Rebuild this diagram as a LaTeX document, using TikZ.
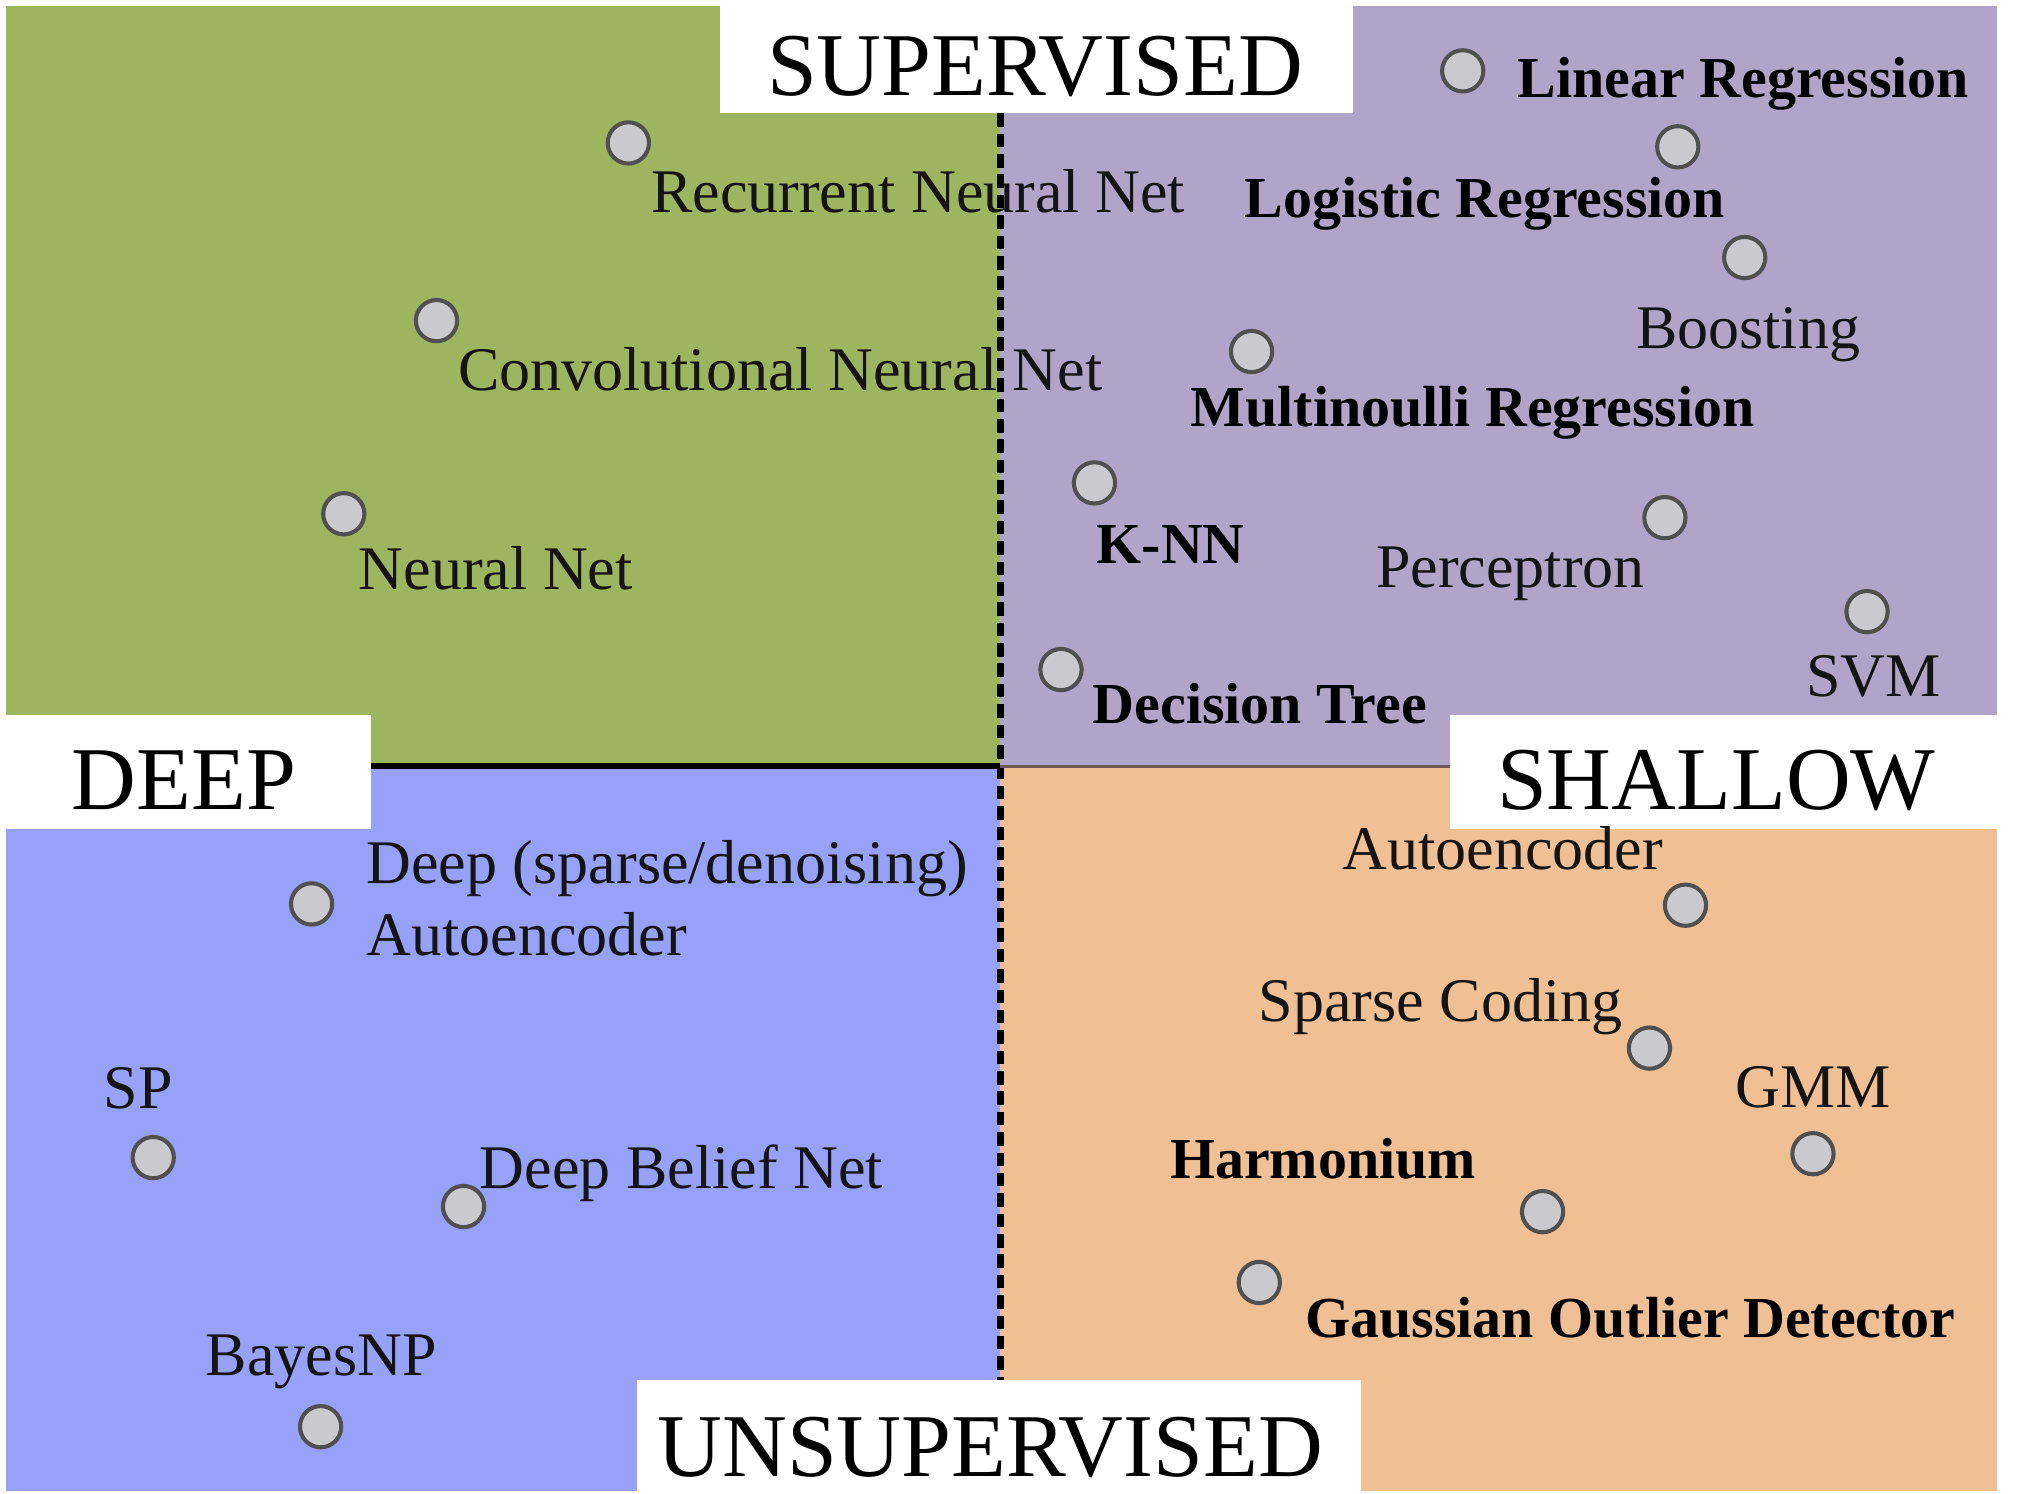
\documentclass[tikz,border=0pt]{standalone}
\usepackage{fontspec}
\setmainfont{Liberation Serif}

\definecolor{greenq}{RGB}{158,181,96}
\definecolor{purpleq}{RGB}{176,165,201}
\definecolor{blueq}{RGB}{151,161,247}
\definecolor{orangeq}{RGB}{240,191,147}
\definecolor{dotfill}{RGB}{202,202,206}
\definecolor{dotline}{RGB}{80,80,80}
\definecolor{seam}{RGB}{110,90,85}

\begin{document}
\begin{tikzpicture}[x=0.01cm,y=-0.01cm,
                    dot/.style={circle, draw=dotline, fill=dotfill, line width=0.9pt,
                                minimum size=0.32cm, inner sep=0pt},
                    lbl/.style={anchor=base west, inner sep=0pt, text=black!92,
                                font=\fontsize{13.7}{16}\selectfont},
                    blbl/.style={anchor=base west, inner sep=0pt, text=black,
                                 font=\bfseries\fontsize{12.8}{15}\selectfont},
                    head/.style={anchor=base west, inner sep=0pt,
                                 font=\fontsize{19.8}{24}\selectfont}]
  \useasboundingbox (0,0) rectangle (1568,1160);
  \fill[white] (0,0) rectangle (1568,1160);

  % Quadrants
  \fill[greenq]  (5,5)     rectangle (777,595);
  \fill[purpleq] (777,5)   rectangle (1551,595);
  \fill[blueq]   (5,595)   rectangle (777,1158);
  \fill[orangeq] (777,595) rectangle (1551,1158);

  % Title boxes
  \fill[white] (559,0)    rectangle (1051,88);
  \fill[white] (0,555)    rectangle (288,644);
  \fill[white] (1126,555) rectangle (1551,644);
  \fill[white] (495,1072) rectangle (1057,1160);
  \node[head] (sup)   at (595,74)   {SUPERVISED};
  \node[head] (deep)  at (55,629)   {DEEP};
  \node[head] (shal)  at (1162,629) {SHALLOW};
  \node[head] (unsup) at (510,1147) {UNSUPERVISED};

  % Deep, supervised
  \node[dot] (rnn) at (488,111) {};
  \node[lbl] (rnnlbl) at (505,165) {Recurrent Neural Net};
  \node[dot] (cnn) at (339,249) {};
  \node[lbl] (cnnlbl) at (355,303) {Convolutional Neural Net};
  \node[dot] (nn) at (267,399) {};
  \node[lbl] (nnlbl) at (278,458) {Neural Net};

  % Shallow, supervised
  \node[dot] (linreg) at (1136,55) {};
  \node[blbl] (linreglbl) at (1178,76) {Linear Regression};
  \node[dot] (logreg) at (1303,114) {};
  \node[blbl] (logreglbl) at (966,169) {Logistic Regression};
  \node[dot] (boost) at (1355,200) {};
  \node[lbl] (boostlbl) at (1270,271) {Boosting};
  \node[dot] (multi) at (972,273) {};
  \node[blbl] (multilbl) at (924,331) {Multinoulli Regression};
  \node[dot] (knn) at (850,375) {};
  \node[blbl] (knnlbl) at (851,438) {K-NN};
  \node[dot] (perc) at (1293,402) {};
  \node[lbl] (perclbl) at (1068,456) {Perceptron};
  \node[dot] (svm) at (1450,475) {};
  \node[lbl] (svmlbl) at (1402,541) {SVM};
  \node[dot] (dtree) at (824,520) {};
  \node[blbl] (dtreelbl) at (848,562) {Decision Tree};

  % Deep, unsupervised
  \node[dot] (dae) at (242,702) {};
  \node[lbl] (daelbl) at (284,686) {Deep (sparse/denoising)};
  \node[lbl] (daelblb) at (284,742) {Autoencoder};
  \node[dot] (sp) at (119,899) {};
  \node[lbl] (splbl) at (80,861) {SP};
  \node[dot] (dbn) at (360,937) {};
  \node[lbl] (dbnlbl) at (372,923) {Deep Belief Net};
  \node[dot] (bnp) at (249,1108) {};
  \node[lbl] (bnplbl) at (159,1068) {BayesNP};

  % Shallow, unsupervised
  \node[dot] (ae) at (1309,703) {};
  \node[lbl] (aelbl) at (1042,675) {Autoencoder};
  \node[dot] (sc) at (1281,814) {};
  \node[lbl] (sclbl) at (977,793) {Sparse Coding};
  \node[dot] (gmm) at (1408,896) {};
  \node[lbl] (gmmlbl) at (1347,860) {GMM};
  \node[dot] (harm) at (1198,941) {};
  \node[blbl] (harmlbl) at (908,915) {Harmonium};
  \node[dot] (god) at (978,996) {};
  \node[blbl] (godlbl) at (1013,1039) {Gaussian Outlier Detector};

  % Axes
  \coordinate (vtop) at (777,88);
  \coordinate (vbot) at (777,1072);
  \coordinate (hleft) at (288,595);
  \coordinate (hmid) at (777,595);
  \coordinate (hright) at (1126,595);
  \draw[line width=1.5pt, dash pattern=on 3pt off 1.5pt] (vtop) -- (vbot);
  \draw[line width=1.4pt] (hleft) -- (hmid);
  \draw[seam, line width=0.7pt] (hmid) -- (hright);
\end{tikzpicture}
\end{document}
